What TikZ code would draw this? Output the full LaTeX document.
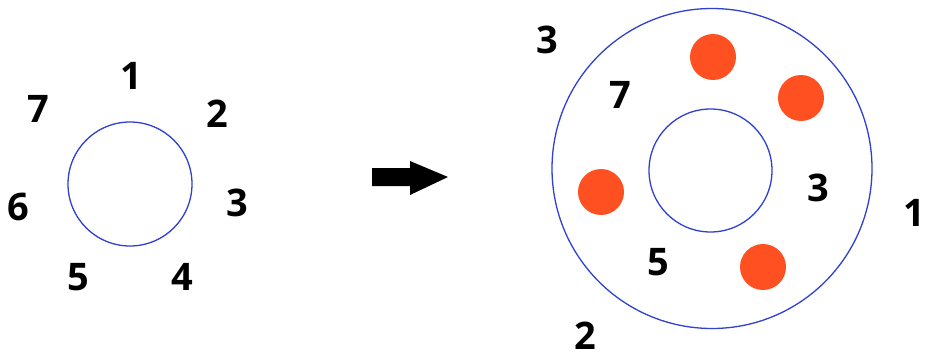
\documentclass[tikz,border=0pt]{standalone}
\usepackage{fontspec}
\setmainfont{Open Sans}
\definecolor{ringblue}{HTML}{3040D0}
\definecolor{dotred}{HTML}{FF5022}
\begin{document}
\begin{tikzpicture}[x=1pt,y=-1pt,
  num/.style={font=\fontsize{38}{40}\selectfont\bfseries, inner sep=0pt},
  ring/.style={circle, draw=ringblue, line width=1.3pt, inner sep=0pt},
  dot/.style={circle, fill=dotred, minimum size=46pt, inner sep=0pt}]
\useasboundingbox (0,0) rectangle (925,361);
% left
\node[ring, minimum size=124pt] (lc) at (130,184) {};
\node[num] (l1) at (131,76) {1};
\node[num] (l2) at (217,114) {2};
\node[num] (l3) at (237,203) {3};
\node[num] (l4) at (182,277) {4};
\node[num] (l5) at (78,277) {5};
\node[num] (l6) at (18,207) {6};
\node[num] (l7) at (38,109) {7};
% arrow
\fill (372,168) -- (410,168) -- (410,161) -- (448,177) -- (410,195) -- (410,186) -- (372,186) -- cycle;
% right
\node[ring, minimum size=320pt] (oc) at (712,168.5) {};
\node[ring, minimum size=123pt] (ic) at (710.5,170.5) {};
\node[dot] (d1) at (713,57) {};
\node[dot] (d2) at (801,98) {};
\node[dot] (d3) at (601,192) {};
\node[dot] (d4) at (763,267) {};
\node[num] (r3a) at (547,40) {3};
\node[num] (r7) at (620,95) {7};
\node[num] (r3b) at (818,188) {3};
\node[num] (r1) at (914,213) {1};
\node[num] (r5) at (658,262) {5};
\node[num] (r2) at (585,336) {2};
\end{tikzpicture}
\end{document}
